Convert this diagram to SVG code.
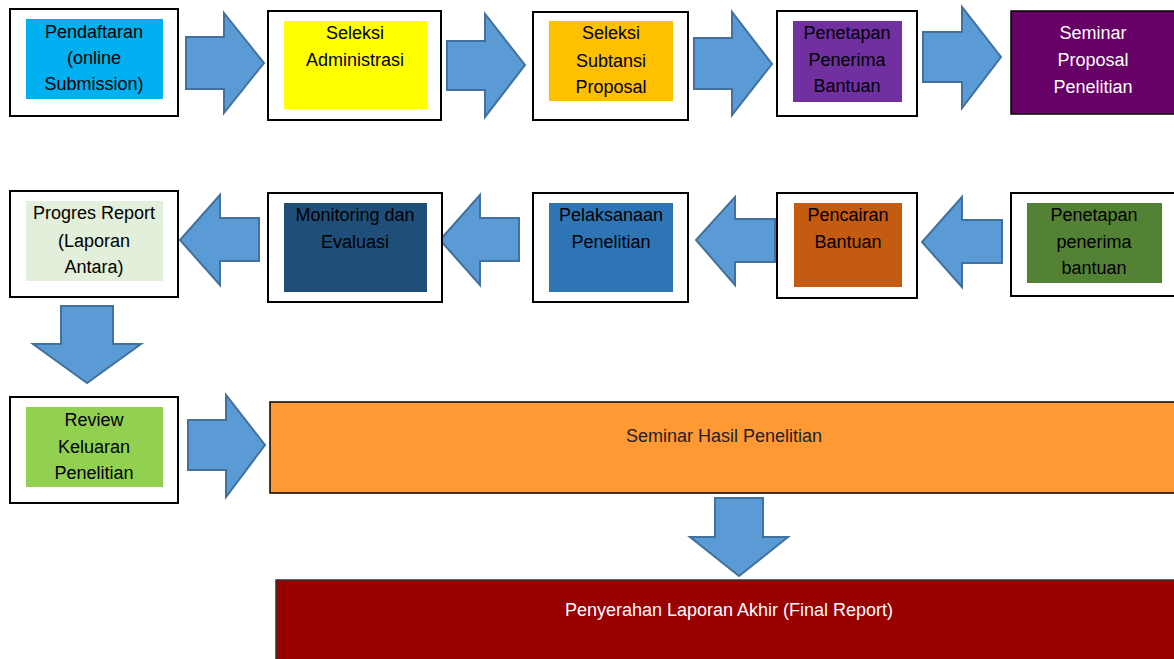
<svg xmlns="http://www.w3.org/2000/svg" width="1174" height="659" viewBox="0 0 1174 659">
<defs>
<style>
.outer{fill:#fff;stroke:#000;stroke-width:2}
.arr{fill:#5B9BD5;stroke:#41719C;stroke-width:2;stroke-linejoin:miter}
text{font-family:"Liberation Sans",Arial,sans-serif;font-size:18px;text-anchor:middle;fill:#000}
.w{fill:#fff}
</style>
</defs>
<rect width="1174" height="659" fill="#fff"/>
<g id="connectors">
<polygon class="arr" points="186,37 224,37 224,13 264,63 224,113 224,89 186,89"/>
<polygon class="arr" points="447,41 485,41 485,14 525,65 485,117 485,90 447,90"/>
<polygon class="arr" points="694,38 732,38 732,12 772,64 732,115 732,89 694,89"/>
<polygon class="arr" points="923,32 962,32 962,7 1001,57 962,108 962,82 923,82"/>
<polygon class="arr" points="1002,220 962,220 962,197 922,242 962,287 962,263 1002,263"/>
<polygon class="arr" points="775,219 735,219 735,197 696,240 735,285 735,262 775,262"/>
<polygon class="arr" points="519,218 480,218 480,195 440,240 480,285 480,261 519,261"/>
<polygon class="arr" points="259,218 220,218 220,195 180,240 220,285 220,261 259,261"/>
<polygon class="arr" points="61,306 113,306 113,344 141,344 87,383 33,344 61,344"/>
<polygon class="arr" points="188,420 226,420 226,395 265,445 226,497 226,470 188,470"/>
<polygon class="arr" points="715,498 763,498 763,537 788,537 739,576 690,537 715,537"/>
</g>
<g id="n1">
<rect class="outer" x="10" y="9" width="168" height="107"/>
<rect x="26" y="19" width="137" height="80" fill="#00B0F0"/>
<text x="94" y="38">Pendaftaran</text>
<text x="94" y="64">(online</text>
<text x="94" y="90">Submission)</text>
</g>
<g id="n2">
<rect class="outer" x="268" y="11" width="173" height="109"/>
<rect x="284" y="21" width="143" height="88" fill="#FFFF00"/>
<text x="355" y="39">Seleksi</text>
<text x="355" y="66">Administrasi</text>
</g>
<g id="n3">
<rect class="outer" x="533" y="12" width="155" height="108"/>
<rect x="549" y="21" width="124" height="80" fill="#FFC000"/>
<text x="611" y="39">Seleksi</text>
<text x="611" y="67">Subtansi</text>
<text x="611" y="93">Proposal</text>
</g>
<g id="n4">
<rect class="outer" x="777" y="11" width="140" height="105"/>
<rect x="793" y="21" width="109" height="81" fill="#7030A0"/>
<text x="847" y="39">Penetapan</text>
<text x="847" y="66">Penerima</text>
<text x="847" y="92">Bantuan</text>
</g>
<g id="n5">
<rect x="1011" y="11" width="168" height="103" fill="#660066" stroke="#000" stroke-width="1.5"/>
<text class="w" x="1093" y="39">Seminar</text>
<text class="w" x="1093" y="66">Proposal</text>
<text class="w" x="1093" y="93">Penelitian</text>
</g>
<g id="n6">
<rect class="outer" x="1011" y="193" width="168" height="103"/>
<rect x="1027" y="203" width="135" height="80" fill="#548235"/>
<text x="1094" y="221">Penetapan</text>
<text x="1094" y="248">penerima</text>
<text x="1094" y="274">bantuan</text>
</g>
<g id="n7">
<rect class="outer" x="777" y="193" width="140" height="105"/>
<rect x="794" y="203" width="108" height="84" fill="#C55A11"/>
<text x="848" y="221">Pencairan</text>
<text x="848" y="248">Bantuan</text>
</g>
<g id="n8">
<rect class="outer" x="533" y="193" width="155" height="109"/>
<rect x="549" y="203" width="124" height="89" fill="#2E75B6"/>
<text x="611" y="221">Pelaksanaan</text>
<text x="611" y="248">Penelitian</text>
</g>
<g id="n9">
<rect class="outer" x="268" y="193" width="174" height="109"/>
<rect x="284" y="203" width="143" height="89" fill="#1F4E79"/>
<text x="355" y="221">Monitoring dan</text>
<text x="355" y="248">Evaluasi</text>
</g>
<g id="n10">
<rect class="outer" x="10" y="191" width="168" height="106"/>
<rect x="26" y="201" width="137" height="80" fill="#E2EFDA"/>
<text x="94" y="219">Progres Report</text>
<text x="94" y="247">(Laporan</text>
<text x="94" y="273">Antara)</text>
</g>
<g id="n11">
<rect class="outer" x="10" y="397" width="168" height="106"/>
<rect x="26" y="407" width="137" height="80" fill="#92D050"/>
<text x="94" y="426">Review</text>
<text x="94" y="453">Keluaran</text>
<text x="94" y="479">Penelitian</text>
</g>
<g id="n12">
<rect x="270" y="402" width="910" height="91" fill="#FF9933" stroke="#000" stroke-width="1.5"/>
<text x="724" y="442" style="fill:#222">Seminar Hasil Penelitian</text>
</g>
<g id="n13">
<rect x="276" y="580" width="904" height="85" fill="#990000" stroke="#333" stroke-width="1.5"/>
<text class="w" x="729" y="616">Penyerahan Laporan Akhir (Final Report)</text>
</g>
</svg>
